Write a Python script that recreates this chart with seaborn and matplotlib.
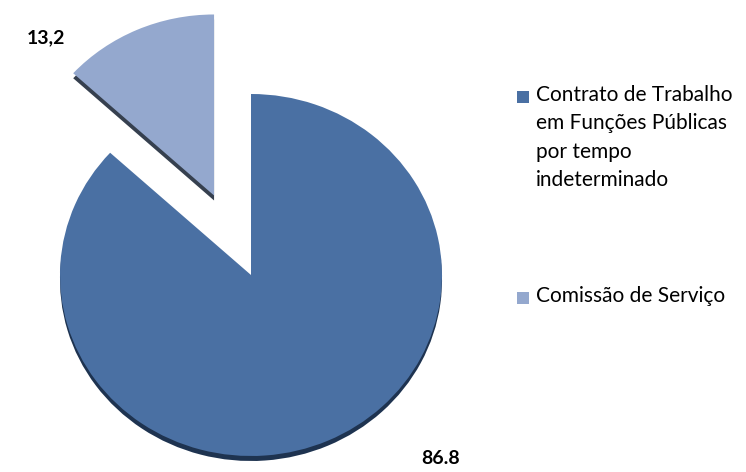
import matplotlib
matplotlib.use("Agg")
import matplotlib.pyplot as plt
from matplotlib.patches import Rectangle
import seaborn as sns

sns.set_theme(style="white")
plt.rcParams["font.family"] = ["Lato", "DejaVu Sans"]

# Data
categories = ["Comissão de Serviço",
              "Contrato de Trabalho\nem Funções Públicas\npor tempo\nindeterminado"]
values = [13.2, 86.8]
decimal_marks = [",", "."]
colors = ["#94A8CE", "#4A70A3"]
side_colors = ["#36404F", "#1E3350"]
explode = [0.48, 0.0]
legend_order = [1, 0]

W, H = 746, 472
cx, cy = 251, 275          # pie centre in pixels (from top-left)
rx, ry = 191, 181          # horizontal / vertical radius in pixels

fig = plt.figure(figsize=(W / 100, H / 100), dpi=100)
ax = fig.add_axes([0, 0, 1, 1])

# side faces (3-D thickness), drawn slightly lower
ax.pie(values, colors=side_colors, startangle=90, counterclock=True,
       explode=explode, center=(0, -5 / ry), radius=1.0,
       wedgeprops=dict(linewidth=0))
# top faces
wedges, _ = ax.pie(values, colors=colors, startangle=90, counterclock=True,
                   explode=explode, center=(0, 0), radius=1.0,
                   wedgeprops=dict(linewidth=0))

ax.set_aspect("auto")
ax.set_xlim(-cx / rx, (W - cx) / rx)
ax.set_ylim(-(H - cy) / ry, cy / ry)
ax.axis("off")

# value labels
label_pos = [(46, 38), (441, 458)]
for v, mark, (px, py) in zip(values, decimal_marks, label_pos):
    fig.text(px / W, 1 - py / H, f"{v:.1f}".replace(".", mark),
             ha="center", va="center", fontsize=14, fontweight="bold",
             color="black")

# legend
legend_y = [97, 298]
for idx, ly in zip(legend_order, legend_y):
    fig.patches.append(Rectangle((517 / W, 1 - (ly + 6) / H), 12 / W, 12 / H,
                                 transform=fig.transFigure,
                                 facecolor=colors[idx], edgecolor="none"))
    fig.text(536 / W, 1 - (ly - 12) / H, categories[idx], ha="left",
             va="top", fontsize=15, color="black", linespacing=1.52)

fig.savefig("out.png", dpi=100)
